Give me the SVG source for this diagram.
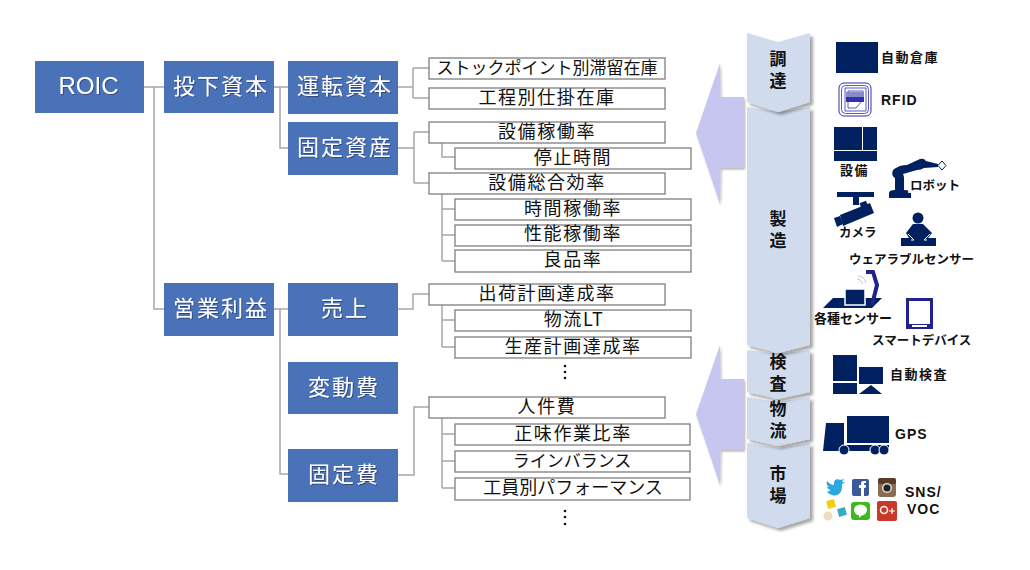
<svg xmlns="http://www.w3.org/2000/svg" width="1030" height="570" viewBox="0 0 1030 570">
<defs>
<style>
.b{fill:#4a72b8}
.bt{font-family:"Noto Sans CJK JP","Liberation Sans",sans-serif;font-size:22px;fill:#fff;text-anchor:middle;letter-spacing:2px;filter:url(#ts)}
.m{fill:#fff;stroke:#7f7f7f;stroke-width:1.3}
.mt{font-family:"Noto Sans CJK JP","Liberation Sans",sans-serif;font-size:18px;fill:#111;text-anchor:middle;letter-spacing:1.6px}
.tight{font-size:17px;letter-spacing:0}
.fit{letter-spacing:0}
.l{fill:none;stroke:#a6a6a6;stroke-width:1.5}
.s{fill:#d0dcee;filter:url(#sh)}
.st{font-family:"Noto Sans CJK JP",sans-serif;font-size:17px;font-weight:700;fill:#111;text-anchor:middle;writing-mode:vertical-rl;letter-spacing:5px}
.i{fill:#002060}
.lab{font-family:"Noto Sans CJK JP","Liberation Sans",sans-serif;font-size:12.5px;font-weight:700;fill:#111}
.wide{font-size:13px;letter-spacing:1.5px}
.lat{font-family:"Liberation Sans",sans-serif;font-size:14px;letter-spacing:1px}
.ar{fill:#c6c6f0;filter:url(#sh2)}
.wl{fill:none;stroke:#fff;stroke-width:1}
</style>
<filter id="sh" x="-20%" y="-20%" width="150%" height="140%"><feDropShadow dx="3" dy="3" stdDeviation="1.5" flood-color="#000" flood-opacity=".35"/></filter>
<filter id="sh2" x="-20%" y="-20%" width="150%" height="140%"><feDropShadow dx="1" dy="1.5" stdDeviation="1" flood-color="#000" flood-opacity=".3"/></filter>
<filter id="ts" x="-10%" y="-20%" width="120%" height="140%"><feDropShadow dx="1" dy="1" stdDeviation=".5" flood-color="#1a2f5a" flood-opacity=".6"/></filter>
</defs>
<g id="connectors">
<path class="l" d="M144 87H164M154 87V309H164M274 87H288M280 87V148H288M398 87H413M413 68V98M413 68H429M413 98H429M398 148H414M414 132V183M414 132H429M414 183H429M442 143V157H455M442 194V261M442 209H455M442 235H455M442 261H455"/>
<path class="l" d="M274 309H288M280 309V474H288M398 309H413V294H429M442 305V347M442 320H455M442 347H455M398 475H414V407H429M442 418V488M442 434H455M442 461H455M442 488H455"/>
</g>
<g id="n-roic"><rect class="b" x="35" y="61" width="109" height="52"/><text class="bt" x="88.500" y="94" style="font-family:'Liberation Sans',sans-serif;font-size:24px;letter-spacing:0">ROIC</text></g>
<g id="n-toka"><rect class="b" x="164" y="61" width="110" height="52"/><text class="bt" x="221" y="94">投下資本</text></g>
<g id="n-eigyo"><rect class="b" x="164" y="283" width="110" height="53"/><text class="bt" x="221" y="316">営業利益</text></g>
<g id="n-unten"><rect class="b" x="288" y="61" width="110" height="53"/><text class="bt" x="345" y="94">運転資本</text></g>
<g id="n-kotei"><rect class="b" x="288" y="122" width="110" height="53"/><text class="bt" x="345" y="155">固定資産</text></g>
<g id="n-uri"><rect class="b" x="288" y="283" width="110" height="53"/><text class="bt" x="345" y="316">売上</text></g>
<g id="n-hendo"><rect class="b" x="288" y="362" width="110" height="52"/><text class="bt" x="344" y="395">変動費</text></g>
<g id="n-koteihi"><rect class="b" x="288" y="449" width="110" height="53"/><text class="bt" x="344" y="482">固定費</text></g>
<g id="m1"><rect class="m" x="429" y="58" width="236" height="21"/><text class="mt tight" x="547" y="74">ストックポイント別滞留在庫</text></g>
<g id="m2"><rect class="m" x="429" y="88" width="236" height="21"/><text class="mt" x="547" y="104">工程別仕掛在庫</text></g>
<g id="m3"><rect class="m" x="429" y="122" width="236" height="21"/><text class="mt" x="547" y="138">設備稼働率</text></g>
<g id="m4"><rect class="m" x="455" y="148" width="236" height="21"/><text class="mt" x="573" y="164">停止時間</text></g>
<g id="m5"><rect class="m" x="429" y="173" width="236" height="21"/><text class="mt" x="547" y="189">設備総合効率</text></g>
<g id="m6"><rect class="m" x="455" y="199" width="236" height="21"/><text class="mt" x="573" y="215">時間稼働率</text></g>
<g id="m7"><rect class="m" x="455" y="225" width="236" height="21"/><text class="mt" x="573" y="240">性能稼働率</text></g>
<g id="m8"><rect class="m" x="455" y="250" width="236" height="22"/><text class="mt" x="573" y="266">良品率</text></g>
<g id="m9"><rect class="m" x="429" y="284" width="236" height="21"/><text class="mt" x="547" y="300">出荷計画達成率</text></g>
<g id="m10"><rect class="m" x="455" y="310" width="236" height="21"/><text class="mt" x="574" y="326">物流LT</text></g>
<g id="m11"><rect class="m" x="455" y="337" width="236" height="21"/><text class="mt" x="573" y="353">生産計画達成率</text></g>
<g id="m12"><rect class="m" x="429" y="397" width="236" height="21"/><text class="mt" x="547" y="413">人件費</text></g>
<g id="m13"><rect class="m" x="455" y="424" width="235" height="21"/><text class="mt" x="573" y="440">正味作業比率</text></g>
<g id="m14"><rect class="m" x="455" y="451" width="235" height="21"/><text class="mt tight" x="572" y="467">ラインバランス</text></g>
<g id="m15"><rect class="m" x="455" y="478" width="235" height="22"/><text class="mt fit" x="573" y="494">工員別パフォーマンス</text></g>
<g id="dots"><circle cx="565" cy="366" r="1.3" fill="#111"/><circle cx="565" cy="372" r="1.3" fill="#111"/><circle cx="565" cy="378" r="1.3" fill="#111"/><circle cx="565" cy="511" r="1.3" fill="#111"/><circle cx="565" cy="517" r="1.3" fill="#111"/><circle cx="565" cy="524" r="1.3" fill="#111"/></g>
<g id="arrow-up"><polygon class="ar" points="744,97 720.5,97 720,63 696,133 720,204 720.5,168 744,168"/></g>
<g id="arrow-down"><polygon class="ar" points="744,379 720.5,379 720,345 696,414 720,485 720.5,450 744,450"/></g>
<g id="s-shijo"><polygon class="s" points="747,443 779,448 810,443 810,518 778,528 747,518"/><text class="st" x="778" y="487">市場</text></g>
<g id="s-butsuryu"><polygon class="s" points="747,397 779,402 810,397 810,439 778,446 747,439"/><text class="st" x="778" y="422.500">物流</text></g>
<g id="s-kensa"><polygon class="s" points="747,350 779,354 810,350 810,392 778,399 747,392"/><text class="st" x="778" y="375">検査</text></g>
<g id="s-seizo"><polygon class="s" points="747,107 779,112 810,107 810,345 778,353 747,345"/><text class="st" x="778" y="232">製造</text></g>
<g id="s-chotatsu"><polygon class="s" points="747,33 778,42 810,33 810,102 778,112 747,102"/><text class="st" x="778" y="72">調達</text></g>
<g id="i-soko"><rect class="i" x="836" y="42" width="42" height="31"/><text class="lab wide" x="881" y="62">自動倉庫</text></g>
<g id="i-rfid"><rect x="839" y="83" width="32" height="33" rx="5" fill="#fff" stroke="#3030b0"/><rect x="841.500" y="85.500" width="27" height="28" rx="4" fill="none" stroke="#3030b0" stroke-width=".8"/><path d="M845 111L866 111V88H845V111M848 108H856L863 100V91H848Z" fill="none" stroke="#3030b0" stroke-width=".8"/><rect x="846" y="92" width="18" height="8" fill="#8a8ac8"/><rect x="846" y="97" width="18" height="5" fill="#3030b0"/><text class="lab lat" x="881" y="105">RFID</text></g>
<g id="i-setsubi"><rect class="i" x="834" y="127" width="28" height="23"/><rect class="i" x="863" y="127" width="14" height="23"/><rect class="i" x="834" y="151" width="43" height="10"/><text class="lab wide" x="840" y="175">設備</text></g>
<g id="i-robot"><path class="i" d="M889 198V193Q889 190 895 190V178A5.500 5.500 0 0 1 896 168Q900 165 907 165L920 159Q924 158 926 161L938 164V167L924 168Q921 170 917 170L903 174Q904 176 904 178V190Q911 190 911 193V198Z"/><polygon points="938,165.500 942,161 946,165.500 942,170" fill="#fff" stroke="#002060"/><rect x="908" y="176" width="50" height="17" fill="#fff" opacity=".85"/><text class="lab" x="910" y="190">ロボット</text></g>
<g id="i-camera"><rect class="i" x="837" y="192" width="37" height="5"/><rect class="i" x="853" y="197" width="6" height="8"/><polygon class="i" points="840,215 870,203 874,213 843,226"/><polygon class="i" points="834,218 840,216 843,224 837,227"/><rect class="i" x="860" y="202" width="7" height="5" transform="rotate(-22 863 204)"/><text class="lab" x="839" y="237">カメラ</text></g>
<g id="i-wear"><circle class="i" cx="918" cy="218" r="5.500"/><path class="i" d="M906 233L913 224H923L932 233L928 238H936V246H901V238H909Z"/><path class="wl" d="M908 234L914 240M930 234L924 240M914 240H911M924 240H927"/><text class="lab" x="849" y="264">ウェアラブルセンサー</text></g>
<g id="i-sensor"><polygon class="i" points="823,308 833,298 882,298 872,308"/><rect x="845" y="289" width="20" height="16" class="i" stroke="#fff" stroke-width="1.500"/><path d="M866 272H873L877 285L872 305" fill="none" stroke="#22228c" stroke-width="4"/><path d="M857 279Q861 279 863 284M858 276Q864 276 866 283" fill="none" stroke="#c8c8c8"/><text class="lab" x="814" y="323" style="font-size:13px">各種センサー</text></g>
<g id="i-smart"><rect x="907.500" y="299.500" width="24" height="27" fill="#fff" stroke="#22228c" stroke-width="3"/><rect x="906" y="324" width="27" height="5" fill="#22228c"/><rect x="912" y="325" width="15" height="2" fill="#fff"/><text class="lab" x="872" y="345">スマートデバイス</text></g>
<g id="i-kensa"><rect class="i" x="833" y="355" width="24" height="26"/><rect class="i" x="833" y="383" width="24" height="11"/><rect class="i" x="859" y="367" width="24" height="17"/><polygon class="i" points="859,394 871,385 882,394"/><text class="lab wide" x="890" y="379">自動検査</text></g>
<g id="i-gps"><rect class="i" x="847" y="416" width="42" height="27"/><polygon class="i" points="826,423 844,423 844,445 889,445 889,451 823,451"/><circle class="i" cx="844" cy="450" r="5" stroke="#fff"/><circle class="i" cx="875" cy="450" r="5" stroke="#fff"/><circle class="i" cx="884" cy="450" r="5" stroke="#fff"/><text class="lab lat" x="895" y="439">GPS</text></g>
<g id="i-sns">
<path d="M827 492C833 498 843 497 842 484L845 482L842 482L844 479L840 480C837 478 833 480 834 485C831 485 829 483 827 481C826 484 827 486 829 487L827 487C828 489 829 490 831 490L829 491Z" fill="#28a9e0"/>
<rect x="852" y="479" width="17" height="17" rx="2" fill="#3b5998"/><path d="M861 496V488H859V485H861V483Q861 481 864 481H866V483H865Q864 483 864 484V485H866L865.500 488H864V496Z" fill="#fff"/>
<rect x="878" y="478" width="18" height="19" rx="3" fill="#8a6a50"/><rect x="878" y="478" width="18" height="6" rx="2" fill="#5a3a28"/><circle cx="887" cy="488" r="5" fill="#ddd"/><circle cx="887" cy="488" r="3.500" fill="#222"/>
<rect x="827" y="500" width="8" height="8" fill="#f0d010" transform="rotate(-15 831 504)"/><rect x="838" y="508" width="8" height="8" fill="#39a9c8" transform="rotate(-15 842 512)"/><circle cx="828" cy="516" r="4.500" fill="#f0dcc0"/>
<rect x="851" y="502" width="19" height="18" rx="3" fill="#3fb81e"/><ellipse cx="860.500" cy="510" rx="6.500" ry="5.500" fill="#fff"/><path d="M859 514L859 518L863 514Z" fill="#fff"/>
<rect x="877" y="501" width="20" height="20" rx="2" fill="#c9382a"/><circle cx="884" cy="510" r="3.500" fill="none" stroke="#fff" stroke-width="1.500"/><path d="M889 511H895M892 508V514" stroke="#fff" stroke-width="1.200"/>
<text class="lab lat" x="905" y="497">SNS/</text><text class="lab lat" x="907" y="514">VOC</text></g>
</svg>
